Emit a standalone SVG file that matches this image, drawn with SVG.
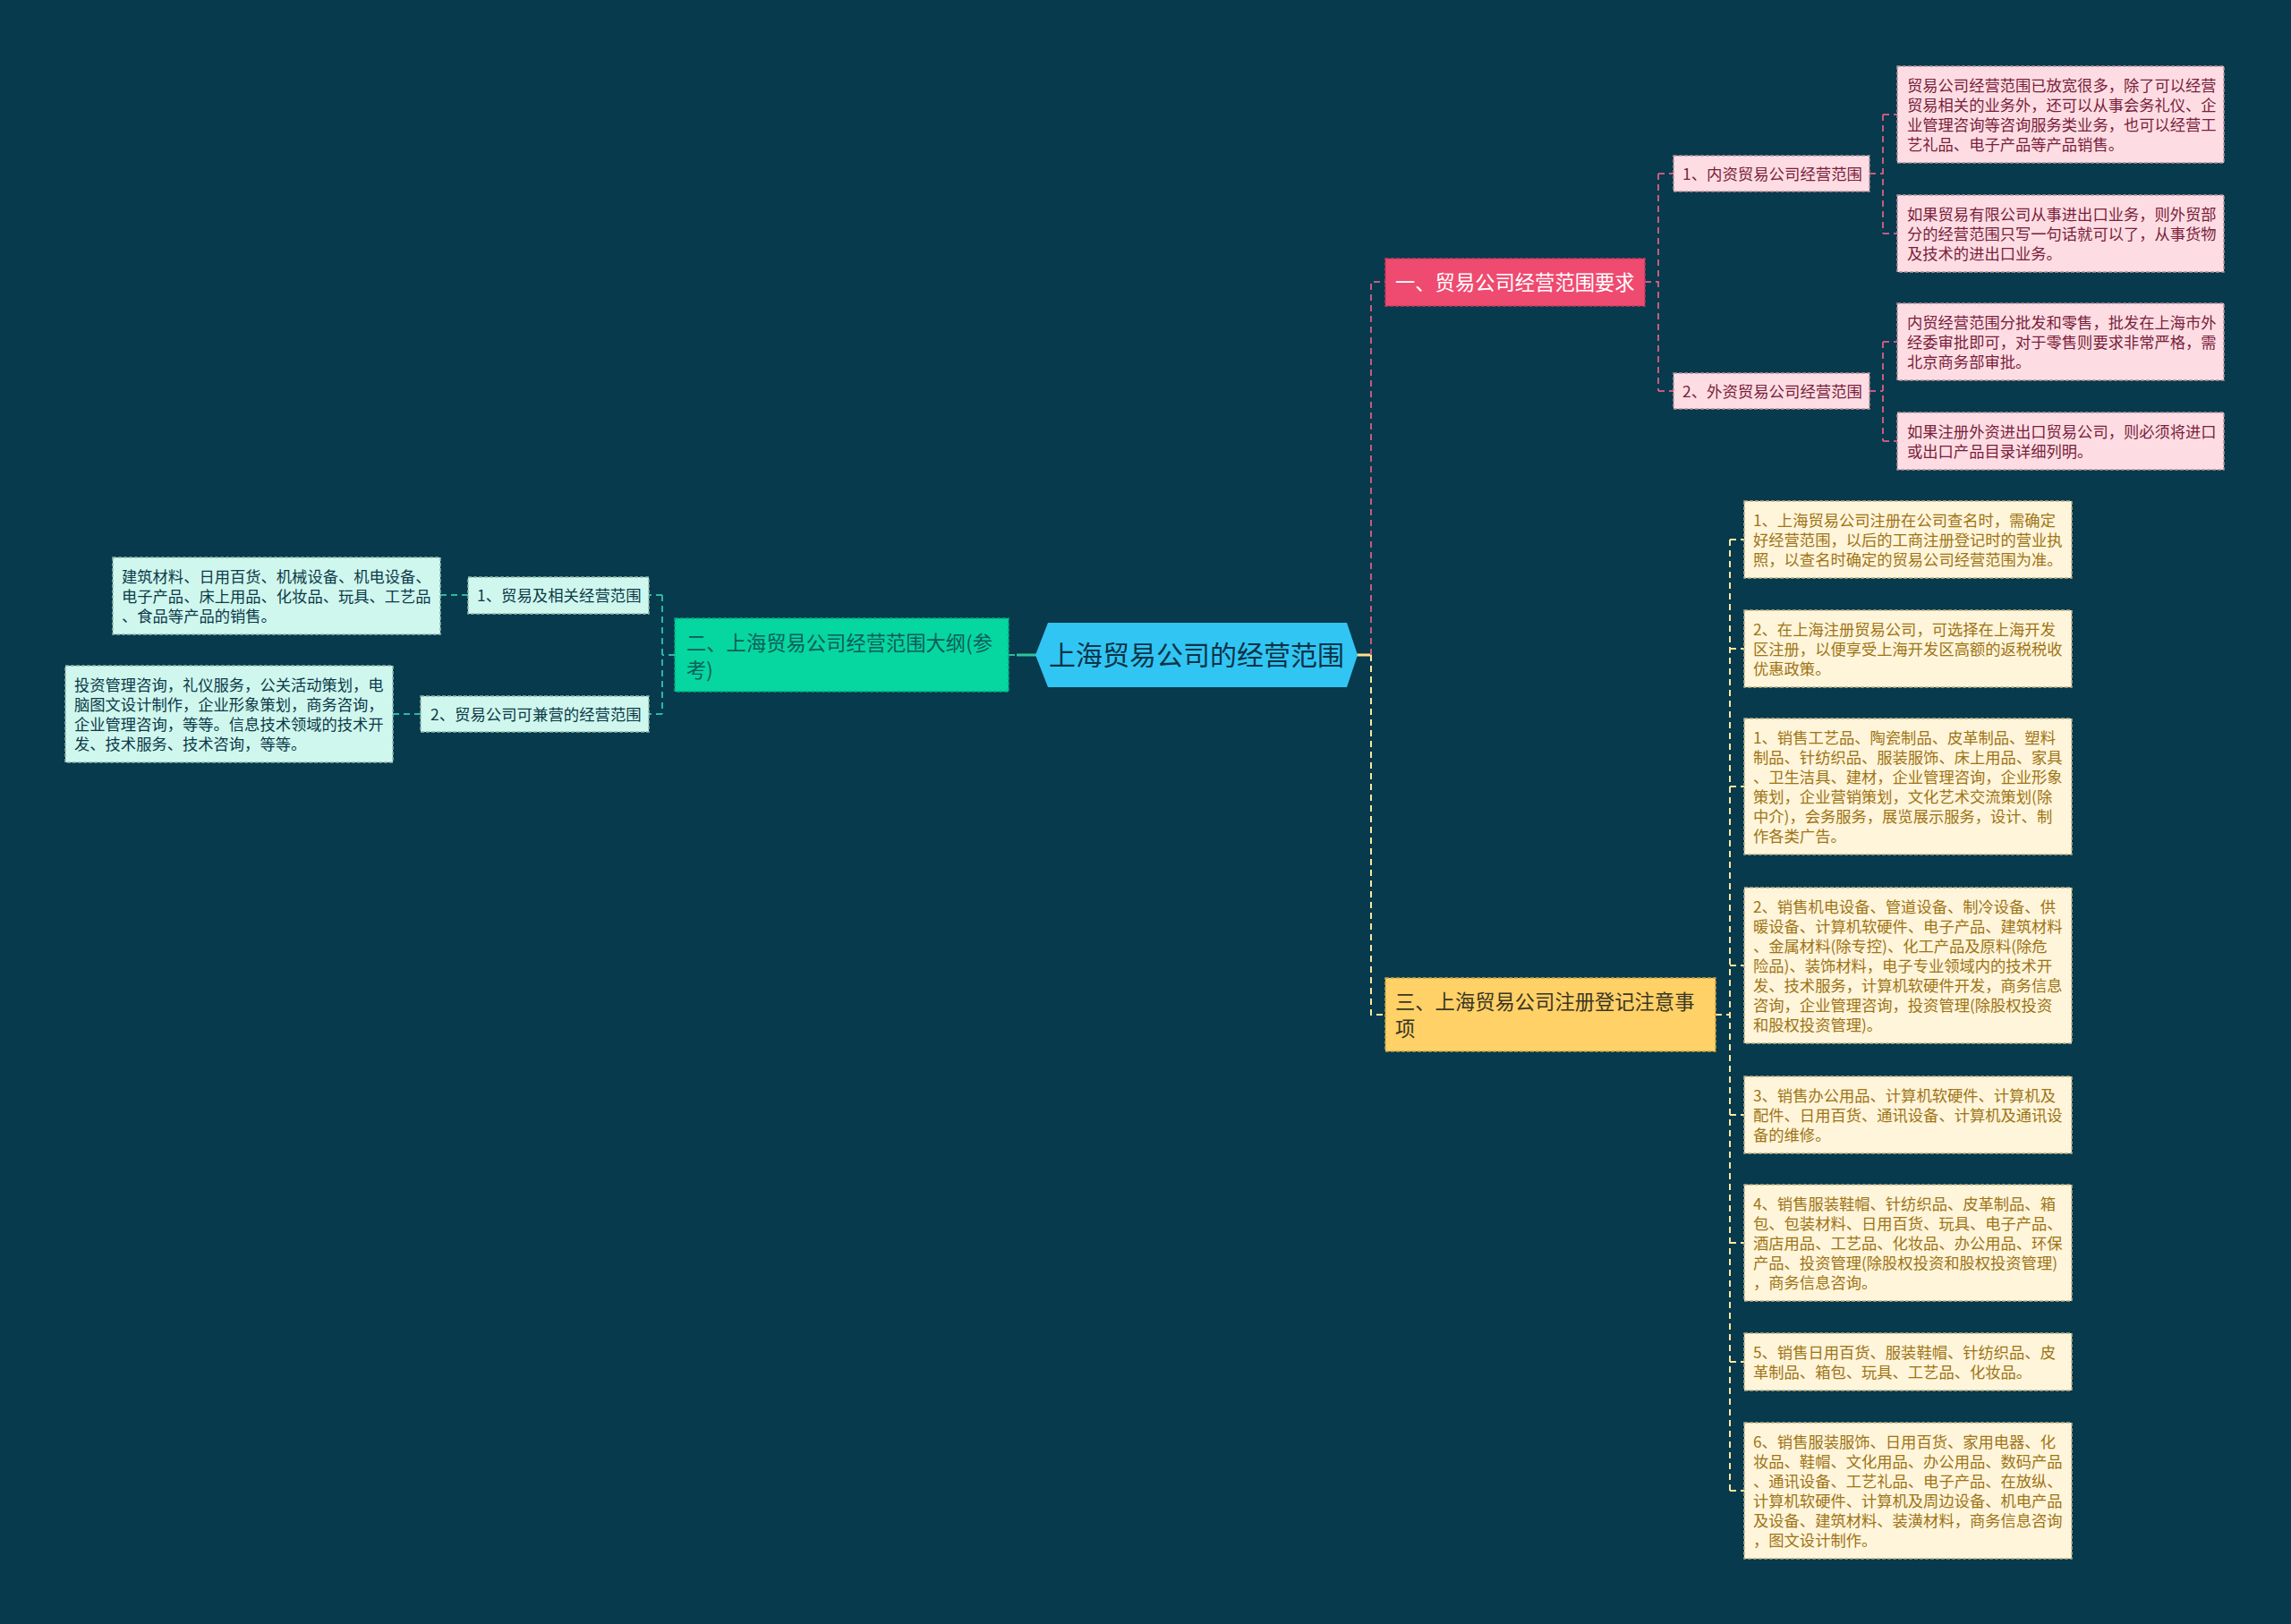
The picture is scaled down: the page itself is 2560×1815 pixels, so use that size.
<svg xmlns="http://www.w3.org/2000/svg" width="2560" height="1815" viewBox="0 0 2560 1815">
<style>
text{font-family:"Noto Sans CJK SC","Noto Sans",sans-serif;}
.bg{fill:#073A4C;}
.cP{stroke:#C85A80;stroke-width:2;fill:none;stroke-dasharray:7 5;}
.cY{stroke:#FFE7A0;stroke-width:2;fill:none;stroke-dasharray:7 5;}
.cG{stroke:#2DB8A0;stroke-width:2;fill:none;stroke-dasharray:7 5;}
.b1{fill:#EF4A70;stroke:#C93A5E;stroke-width:1.5;stroke-dasharray:4 2;}
.b2{fill:#06D6A0;stroke:#05A67E;stroke-width:1.5;stroke-dasharray:4 2;}
.b3{fill:#FFD166;stroke:#C9A24A;stroke-width:1.5;stroke-dasharray:4 2;}
.lP{fill:#FDDDE3;stroke:#B7909C;stroke-width:1.5;stroke-dasharray:4 2;}
.lY{fill:#FFF5DB;stroke:#BFAE84;stroke-width:1.5;stroke-dasharray:4 2;}
.lG{fill:#D0F7EE;stroke:#8FB8AE;stroke-width:1.5;stroke-dasharray:4 2;}
.tR{font-size:30px;fill:#0B3446;}
.tB1{font-size:22.3px;fill:#FFFFFF;}
.tB2{font-size:22.3px;fill:#0E5E5A;}
.tB3{font-size:22.3px;fill:#3A3525;}
.tSP{font-size:17.4px;fill:#7A1E3C;}
.tSG{font-size:17.4px;fill:#0B3A48;}
.tP{font-size:17.3px;fill:#7A1E3C;}
.tY{font-size:17.3px;fill:#9E7414;}
.tG{font-size:17.3px;fill:#0B3A48;}
</style>
<rect class="bg" x="0" y="0" width="2560" height="1815"/>

<g id="connectors">
  <line x1="1127" y1="732" x2="1136" y2="732" class="cG"/>
  <line x1="1136" y1="732" x2="1158" y2="732" stroke="#2DC49E" stroke-width="3"/>
  <line x1="1516" y1="732" x2="1532" y2="732" stroke="#FFE08A" stroke-width="3"/>
  <path class="cP" d="M1532 732 V315 H1548"/>
  <path class="cY" d="M1532 732 V1134 H1548"/>
  <path class="cP" d="M1838 315 H1853"/>
  <path class="cP" d="M1853 194 V437"/>
  <path class="cP" d="M1853 194 H1870 M1853 437 H1870"/>
  <path class="cP" d="M2089 194 H2104 M2104 128 V261 M2104 128 H2120 M2104 261 H2120"/>
  <path class="cP" d="M2089 437 H2104 M2104 382 V493 M2104 382 H2120 M2104 493 H2120"/>
  <path class="cY" d="M1917 1134 H1933 M1933 603 V1666"/>
  <path class="cY" d="M1933 603 H1949 M1933 725 H1949 M1933 879 H1949 M1933 1079 H1949 M1933 1246 H1949 M1933 1389 H1949 M1933 1522 H1949 M1933 1666 H1949"/>
  <path class="cG" d="M754 732 H740 M740 665 V798 M740 665 H725 M740 798 H725"/>
  <path class="cG" d="M523 665 H492 M470 798 H439"/>
</g>

<g id="root">
  <polygon points="1157,732 1171,696 1505,696 1517,732 1505,768 1171,768" fill="#31C5F4"/>
  <text class="tR" x="1337" y="743" text-anchor="middle">上海贸易公司的经营范围</text>
</g>

<g id="branch1">
  <rect class="b1" x="1548" y="289" width="290" height="53"/>
  <text class="tB1" x="1559" y="324">一、贸易公司经营范围要求</text>
</g>
<g id="sub1-1">
  <rect class="lP" x="1870" y="174" width="219" height="40"/>
  <text class="tSP" x="1880" y="200.5">1、内资贸易公司经营范围</text>
</g>
<g id="sub1-2">
  <rect class="lP" x="1870" y="417" width="219" height="40"/>
  <text class="tSP" x="1880" y="443.5">2、外资贸易公司经营范围</text>
</g>
<g id="leafP1">
  <rect class="lP" x="2120" y="74" width="365" height="108"/>
  <text class="tP"><tspan x="2131" y="102">贸易公司经营范围已放宽很多，除了可以经营</tspan><tspan x="2131" y="124">贸易相关的业务外，还可以从事会务礼仪、企</tspan><tspan x="2131" y="146">业管理咨询等咨询服务类业务，也可以经营工</tspan><tspan x="2131" y="168">艺礼品、电子产品等产品销售。</tspan></text>
</g>
<g id="leafP2">
  <rect class="lP" x="2120" y="218" width="365" height="86"/>
  <text class="tP"><tspan x="2131" y="246">如果贸易有限公司从事进出口业务，则外贸部</tspan><tspan x="2131" y="268">分的经营范围只写一句话就可以了，从事货物</tspan><tspan x="2131" y="290">及技术的进出口业务。</tspan></text>
</g>
<g id="leafP3">
  <rect class="lP" x="2120" y="339" width="365" height="86"/>
  <text class="tP"><tspan x="2131" y="367">内贸经营范围分批发和零售，批发在上海市外</tspan><tspan x="2131" y="389">经委审批即可，对于零售则要求非常严格，需</tspan><tspan x="2131" y="411">北京商务部审批。</tspan></text>
</g>
<g id="leafP4">
  <rect class="lP" x="2120" y="461" width="365" height="64"/>
  <text class="tP"><tspan x="2131" y="489">如果注册外资进出口贸易公司，则必须将进口</tspan><tspan x="2131" y="511">或出口产品目录详细列明。</tspan></text>
</g>

<g id="branch3">
  <rect class="b3" x="1548" y="1093" width="369" height="82"/>
  <text class="tB3"><tspan x="1559" y="1128">三、上海贸易公司注册登记注意事</tspan><tspan x="1559" y="1158">项</tspan></text>
</g>
<g id="leafY1">
  <rect class="lY" x="1949" y="560" width="366" height="86"/>
  <text class="tY"><tspan x="1959" y="588">1、上海贸易公司注册在公司查名时，需确定</tspan><tspan x="1959" y="610">好经营范围，以后的工商注册登记时的营业执</tspan><tspan x="1959" y="632">照，以查名时确定的贸易公司经营范围为准。</tspan></text>
</g>
<g id="leafY2">
  <rect class="lY" x="1949" y="682" width="366" height="86"/>
  <text class="tY"><tspan x="1959" y="710">2、在上海注册贸易公司，可选择在上海开发</tspan><tspan x="1959" y="732">区注册，以便享受上海开发区高额的返税税收</tspan><tspan x="1959" y="754">优惠政策。</tspan></text>
</g>
<g id="leafY3">
  <rect class="lY" x="1949" y="803" width="366" height="152"/>
  <text class="tY"><tspan x="1959" y="831">1、销售工艺品、陶瓷制品、皮革制品、塑料</tspan><tspan x="1959" y="853">制品、针纺织品、服装服饰、床上用品、家具</tspan><tspan x="1959" y="875">、卫生洁具、建材，企业管理咨询，企业形象</tspan><tspan x="1959" y="897">策划，企业营销策划，文化艺术交流策划(除</tspan><tspan x="1959" y="919">中介)，会务服务，展览展示服务，设计、制</tspan><tspan x="1959" y="941">作各类广告。</tspan></text>
</g>
<g id="leafY4">
  <rect class="lY" x="1949" y="992" width="366" height="174"/>
  <text class="tY"><tspan x="1959" y="1020">2、销售机电设备、管道设备、制冷设备、供</tspan><tspan x="1959" y="1042">暖设备、计算机软硬件、电子产品、建筑材料</tspan><tspan x="1959" y="1064">、金属材料(除专控)、化工产品及原料(除危</tspan><tspan x="1959" y="1086">险品)、装饰材料，电子专业领域内的技术开</tspan><tspan x="1959" y="1108">发、技术服务，计算机软硬件开发，商务信息</tspan><tspan x="1959" y="1130">咨询，企业管理咨询，投资管理(除股权投资</tspan><tspan x="1959" y="1152">和股权投资管理)。</tspan></text>
</g>
<g id="leafY5">
  <rect class="lY" x="1949" y="1203" width="366" height="86"/>
  <text class="tY"><tspan x="1959" y="1231">3、销售办公用品、计算机软硬件、计算机及</tspan><tspan x="1959" y="1253">配件、日用百货、通讯设备、计算机及通讯设</tspan><tspan x="1959" y="1275">备的维修。</tspan></text>
</g>
<g id="leafY6">
  <rect class="lY" x="1949" y="1324" width="366" height="130"/>
  <text class="tY"><tspan x="1959" y="1352">4、销售服装鞋帽、针纺织品、皮革制品、箱</tspan><tspan x="1959" y="1374">包、包装材料、日用百货、玩具、电子产品、</tspan><tspan x="1959" y="1396">酒店用品、工艺品、化妆品、办公用品、环保</tspan><tspan x="1959" y="1418">产品、投资管理(除股权投资和股权投资管理)</tspan><tspan x="1959" y="1440">，商务信息咨询。</tspan></text>
</g>
<g id="leafY7">
  <rect class="lY" x="1949" y="1490" width="366" height="64"/>
  <text class="tY"><tspan x="1959" y="1518">5、销售日用百货、服装鞋帽、针纺织品、皮</tspan><tspan x="1959" y="1540">革制品、箱包、玩具、工艺品、化妆品。</tspan></text>
</g>
<g id="leafY8">
  <rect class="lY" x="1949" y="1590" width="366" height="152"/>
  <text class="tY"><tspan x="1959" y="1618">6、销售服装服饰、日用百货、家用电器、化</tspan><tspan x="1959" y="1640">妆品、鞋帽、文化用品、办公用品、数码产品</tspan><tspan x="1959" y="1662">、通讯设备、工艺礼品、电子产品、在放纵、</tspan><tspan x="1959" y="1684">计算机软硬件、计算机及周边设备、机电产品</tspan><tspan x="1959" y="1706">及设备、建筑材料、装潢材料，商务信息咨询</tspan><tspan x="1959" y="1728">，图文设计制作。</tspan></text>
</g>

<g id="branch2">
  <rect class="b2" x="754" y="691" width="373" height="82"/>
  <text class="tB2"><tspan x="767" y="727">二、上海贸易公司经营范围大纲(参</tspan><tspan x="767" y="757">考)</tspan></text>
</g>
<g id="sub2-1">
  <rect class="lG" x="523" y="645" width="202" height="41"/>
  <text class="tSG" x="533" y="671.5">1、贸易及相关经营范围</text>
</g>
<g id="sub2-2">
  <rect class="lG" x="470" y="778" width="255" height="40"/>
  <text class="tSG" x="481" y="804.5">2、贸易公司可兼营的经营范围</text>
</g>
<g id="leafG1">
  <rect class="lG" x="126" y="623" width="366" height="86"/>
  <text class="tG"><tspan x="136" y="651">建筑材料、日用百货、机械设备、机电设备、</tspan><tspan x="136" y="673">电子产品、床上用品、化妆品、玩具、工艺品</tspan><tspan x="136" y="695">、食品等产品的销售。</tspan></text>
</g>
<g id="leafG2">
  <rect class="lG" x="73" y="744" width="366" height="108"/>
  <text class="tG"><tspan x="83" y="772">投资管理咨询，礼仪服务，公关活动策划，电</tspan><tspan x="83" y="794">脑图文设计制作，企业形象策划，商务咨询，</tspan><tspan x="83" y="816">企业管理咨询，等等。信息技术领域的技术开</tspan><tspan x="83" y="838">发、技术服务、技术咨询，等等。</tspan></text>
</g>
</svg>
